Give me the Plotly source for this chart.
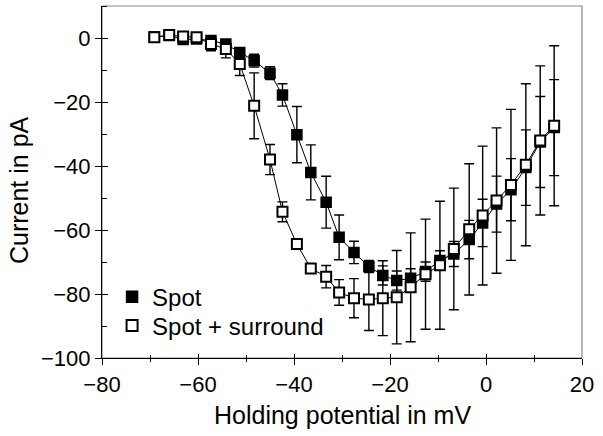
import plotly.graph_objects as go

# Holding potentials (mV) shared by both stimulus conditions
volts = [-69.1, -66.0, -63.1, -60.3, -57.3, -54.2, -51.3, -48.3, -45.0, -42.4,
         -39.4, -36.5, -33.3, -30.6, -27.5, -24.4, -21.5, -18.6, -15.7, -12.6,
         -9.6, -6.7, -3.5, -0.7, 2.2, 5.2, 8.3, 11.3, 14.2]

# Mean current (pA) and error for the spot stimulus
spot = [0.3, 0.8, -0.5, -0.3, -0.8, -1.9, -4.5, -7.1, -11.0, -17.8,
        -30.2, -42.0, -51.3, -62.3, -67.0, -71.4, -74.2, -75.8, -75.1, -73.0,
        -69.5, -67.5, -63.0, -57.8, -51.9, -47.4, -40.5, -32.5, -28.0]
spot_err = [0.5, 0.5, 0.5, 0.5, 1.0, 1.0, 1.5, 2.0, 2.0, 3.5,
            8.8, 8.6, 8.1, 7.0, 3.5, 1.9, 3.0, 3.0, 3.0, 3.0,
            3.0, 3.9, 6.0, 7.4, 8.75, 9.7, 11.8, 14.2, 15.0]

# Mean current (pA) and error for spot + surround stimulus
surround = [0.2, 0.9, 0.5, 0.2, -1.9, -3.4, -8.1, -21.2, -38.0, -54.3,
            -64.4, -72.0, -74.6, -79.5, -81.3, -81.7, -81.3, -81.0, -77.9, -73.8,
            -71.0, -65.9, -59.8, -55.5, -50.8, -45.9, -39.6, -32.0, -27.4]
surround_err = [0.5, 0.5, 0.5, 0.5, 2.1, 2.8, 3.6, 10.3, 4.7, 3.1,
                1.5, 1.5, 3.5, 4.0, 6.1, 9.7, 11.7, 14.6, 17.0, 17.2,
                20.0, 19.0, 20.5, 21.7, 22.7, 23.6, 25.3, 23.3, 25.0]

series_names = ["Spot", "Spot + surround"]
x_ticks = [-80, -60, -40, -20, 0, 20]
y_ticks = [0, -20, -40, -60, -80, -100]
x_title = "Holding potential in mV"
y_title = "Current in pA"

FONT = "Liberation Sans, Arial, sans-serif"

err_style = dict(type="data", visible=True, color="black", thickness=1.4, width=5)
filled_marker = dict(symbol="square", size=10, color="black",
                     line=dict(color="black", width=1.5))
open_marker = dict(symbol="square", size=10, color="white",
                   line=dict(color="black", width=2))

fig = go.Figure()
fig.add_trace(go.Scatter(
    x=volts, y=spot, name=series_names[0], mode="lines+markers",
    line=dict(color="black", width=1), marker=filled_marker,
    error_y=dict(array=spot_err, **err_style), showlegend=False,
))
fig.add_trace(go.Scatter(
    x=volts, y=surround, name=series_names[1], mode="lines+markers",
    line=dict(color="black", width=1), marker=open_marker,
    error_y=dict(array=surround_err, **err_style), showlegend=False,
))
# legend entries show the marker symbol only
fig.add_trace(go.Scatter(x=[None], y=[None], name=series_names[0], mode="markers",
                         marker=dict(filled_marker, size=11), legend="legend"))
fig.add_trace(go.Scatter(x=[None], y=[None], name=series_names[1], mode="markers",
                         marker=dict(open_marker, size=11), legend="legend2"))
# invisible trace that carries the inner-tick overlay axes
fig.add_trace(go.Scatter(x=[-80], y=[-100], xaxis="x2", yaxis="y2",
                         mode="markers", marker=dict(opacity=0),
                         showlegend=False, hoverinfo="skip"))

legend_common = dict(xanchor="left", yanchor="middle", bgcolor="rgba(0,0,0,0)",
                     font=dict(size=24, family=FONT), itemwidth=30)

fig.update_layout(
    width=603, height=436,
    margin=dict(l=102, r=21, t=6, b=78),
    paper_bgcolor="white", plot_bgcolor="white",
    font=dict(family=FONT, color="black", size=22),
    showlegend=True,
    legend=dict(x=0.021, y=0.173, **legend_common),
    legend2=dict(x=0.021, y=0.091, **legend_common),
    xaxis=dict(range=[-80, 20], tickvals=x_ticks, ticks="outside", ticklen=6,
               tickwidth=1.2, tickcolor="black",
               minor=dict(dtick=10, tick0=0, ticks="outside", ticklen=3,
                          tickcolor="black", tickwidth=1),
               showline=True, linecolor="black", linewidth=1.2,
               showgrid=False, zeroline=False, automargin=False,
               tickfont=dict(size=22)),
    yaxis=dict(range=[-100, 10], tickvals=y_ticks, ticks="outside", ticklen=6,
               tickwidth=1.2, tickcolor="black",
               minor=dict(dtick=10, tick0=0, ticks="inside", ticklen=5,
                          tickcolor="black", tickwidth=1),
               showline=True, linecolor="black", linewidth=1.2,
               showgrid=False, zeroline=False, automargin=False,
               tickfont=dict(size=22)),
    xaxis2=dict(overlaying="x", range=[-80, 20], tickvals=x_ticks,
                ticks="inside", ticklen=4, tickwidth=1.2, tickcolor="black",
                minor=dict(dtick=10, tick0=0, ticks="inside", ticklen=3,
                           tickcolor="black", tickwidth=1),
                showticklabels=False, showgrid=False, zeroline=False,
                showline=False, side="bottom", automargin=False),
    yaxis2=dict(overlaying="y", range=[-100, 10], tickvals=y_ticks,
                ticks="inside", ticklen=6, tickwidth=1.2, tickcolor="black",
                showticklabels=False, showgrid=False, zeroline=False,
                showline=False, side="left", automargin=False),
    annotations=[
        dict(text=x_title, xref="paper", yref="paper", x=0.5, y=-0.163,
             xanchor="center", yanchor="middle", showarrow=False,
             font=dict(size=25, family=FONT, color="black")),
        dict(text=y_title, xref="paper", yref="paper", x=-0.173, y=0.477,
             xanchor="center", yanchor="middle", showarrow=False, textangle=-90,
             font=dict(size=25, family=FONT, color="black")),
    ],
    shapes=[dict(type="rect", xref="paper", yref="paper", x0=0, y0=0, x1=1, y1=1,
                 line=dict(color="#888888", width=1.2), layer="below")],
)

fig.write_html("out.html")
